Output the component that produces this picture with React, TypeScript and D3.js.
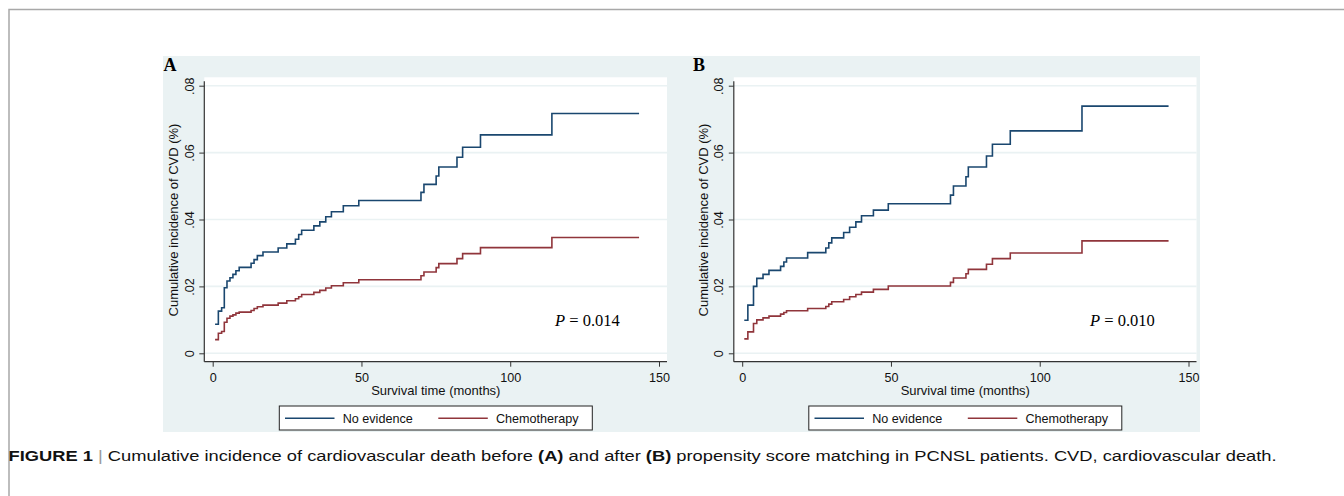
import * as d3 from 'd3'
import { useRef, useEffect } from 'react'

// event times (months) and cumulative incidence
const timesA = [0.8, 1.9, 3.0, 3.9, 4.8, 5.8, 6.8, 7.8, 8.9, 12.9, 13.9, 15.0, 16.9, 22.0, 24.9, 27.8, 28.9, 29.9, 34.0, 36.0, 38.0, 39.9, 43.9, 49.1, 70.0, 71.0, 75.1, 76.0, 82.1, 84.0, 90.0, 114.0, 143.3]
const noEvidenceA = [0.0087, 0.0126, 0.0136, 0.0196, 0.0216, 0.0226, 0.0236, 0.0247, 0.0257, 0.0269, 0.0280, 0.0292, 0.0303, 0.0315, 0.0327, 0.0341, 0.0355, 0.0368, 0.0381, 0.0393, 0.0408, 0.0423, 0.0441, 0.0457, 0.0481, 0.0505, 0.0530, 0.0557, 0.0586, 0.0616, 0.0653, 0.0717, 0.0717]
const chemoA = [0.0041, 0.0060, 0.0065, 0.0093, 0.0105, 0.0111, 0.0115, 0.0120, 0.0123, 0.0128, 0.0134, 0.0139, 0.0144, 0.0150, 0.0157, 0.0163, 0.0169, 0.0176, 0.0182, 0.0188, 0.0195, 0.0202, 0.0211, 0.0220, 0.0232, 0.0243, 0.0256, 0.0268, 0.0283, 0.0298, 0.0316, 0.0346, 0.0346]

const timesB = [0.7, 1.9, 3.8, 4.9, 7.0, 9.0, 12.9, 14.0, 14.9, 22.0, 28.1, 29.1, 30.1, 34.1, 36.1, 38.2, 40.1, 44.1, 49.1, 70.0, 71.0, 75.2, 76.0, 82.1, 84.1, 90.1, 114.2, 143.3]
const noEvidenceB = [0.0099, 0.0144, 0.0200, 0.0224, 0.0236, 0.0248, 0.0260, 0.0273, 0.0285, 0.0301, 0.0315, 0.0330, 0.0345, 0.0361, 0.0377, 0.0393, 0.0411, 0.0428, 0.0447, 0.0473, 0.0500, 0.0528, 0.0557, 0.0590, 0.0625, 0.0665, 0.0739, 0.0739]
const chemoB = [0.0043, 0.0064, 0.0089, 0.0100, 0.0106, 0.0111, 0.0117, 0.0122, 0.0127, 0.0134, 0.0140, 0.0147, 0.0154, 0.0161, 0.0169, 0.0176, 0.0183, 0.0191, 0.0201, 0.0212, 0.0225, 0.0238, 0.0251, 0.0266, 0.0283, 0.0300, 0.0336, 0.0336]

const xTicks = [0, 50, 100, 150]
const yTicks = [0, 0.02, 0.04, 0.06, 0.08]
const yTickLabels = ['0', '.02', '.04', '.06', '.08']
const seriesNames = ['No evidence', 'Chemotherapy']
const panelLabels = ['A', 'B']
const pValues = ['0.014', '0.010']

const NAVY = '#1a476f'
const MAROON = '#90353b'
const BG = '#eaf2f3'
const AXIS = '#333'
const SANS = '"Liberation Sans", Arial, sans-serif'
const SERIF = '"Liberation Serif", "Times New Roman", serif'

export default function App(){
    const svgRef = useRef<SVGSVGElement>(null)

    useEffect(()=>{
        const svg = d3.select(svgRef.current)
        svg.selectAll('*').remove()

        // page frame
        svg.append('path')
            .attr('d', 'M9,496 V9.5 H1344')
            .attr('fill', 'none')
            .attr('stroke', '#a8a8a8')
            .attr('stroke-width', 1.5)

        // graph background shared by both panels
        svg.append('rect')
            .attr('x', 163).attr('y', 56)
            .attr('width', 1037).attr('height', 376)
            .attr('fill', BG)

        const panels = [
            {times: timesA, blue: noEvidenceA, red: chemoA, dx: 0, px: 555},
            {times: timesB, blue: noEvidenceB, red: chemoB, dx: 529.5, px: 1090},
        ]

        panels.forEach((p, i)=>{
            const g = svg.append('g').attr('transform', `translate(${p.dx},0)`)
            const plot = {left: 204.3, right: 667, top: 77.3, bottom: 361.7}

            const x = d3.scaleLinear().domain([0, 150]).range([212.7, 659])
            const y = d3.scaleLinear().domain([0, 0.08]).range([353.3, 85.7])

            g.append('rect')
                .attr('x', plot.left).attr('y', plot.top)
                .attr('width', plot.right - plot.left).attr('height', plot.bottom - plot.top)
                .attr('fill', 'white')

            // grid
            g.selectAll('.grid')
                .data(yTicks)
                .enter()
                .append('line')
                .attr('x1', plot.left).attr('x2', plot.right)
                .attr('y1', d=>y(d)).attr('y2', d=>y(d))
                .attr('stroke', BG)
                .attr('stroke-width', 1.6)

            // axes
            const yAxis = g.append('g')
                .attr('transform', `translate(${plot.left},0)`)
                .call(d3.axisLeft(y).tickValues(yTicks).tickSize(5).tickSizeOuter(0)
                    .tickFormat((d, k)=>yTickLabels[k]))
            yAxis.select('.domain').remove()
            yAxis.selectAll('line').attr('stroke', AXIS)
            yAxis.selectAll('text')
                .attr('x', 0).attr('dy', 0)
                .attr('text-anchor', 'middle')
                .attr('transform', 'rotate(-90) translate(0,-10.5)')
                .attr('fill', '#111')
                .style('font-family', SANS).style('font-size', '12.6px')

            const xAxis = g.append('g')
                .attr('transform', `translate(0,${plot.bottom})`)
                .call(d3.axisBottom(x).tickValues(xTicks).tickSize(5).tickPadding(6).tickSizeOuter(0))
            xAxis.select('.domain').remove()
            xAxis.selectAll('line').attr('stroke', AXIS)
            xAxis.selectAll('text')
                .attr('fill', '#111')
                .style('font-family', SANS).style('font-size', '12.6px')

            g.append('line')
                .attr('x1', plot.left).attr('x2', plot.left)
                .attr('y1', plot.top + 4).attr('y2', plot.bottom)
                .attr('stroke', AXIS).attr('stroke-width', 1.2)
            g.append('line')
                .attr('x1', plot.left).attr('x2', plot.right)
                .attr('y1', plot.bottom).attr('y2', plot.bottom)
                .attr('stroke', AXIS).attr('stroke-width', 1.2)

            // step curves
            const line = d3.line<number>()
                .x((d, k)=>x(p.times[k]))
                .y(d=>y(d))
                .curve(d3.curveStepAfter)
            g.append('path').attr('d', line(p.red))
                .attr('fill', 'none').attr('stroke', MAROON).attr('stroke-width', 1.6)
            g.append('path').attr('d', line(p.blue))
                .attr('fill', 'none').attr('stroke', NAVY).attr('stroke-width', 1.6)

            // titles
            g.append('text')
                .attr('transform', 'translate(178,220) rotate(-90)')
                .attr('text-anchor', 'middle')
                .style('font-family', SANS).style('font-size', '13px')
                .attr('fill', '#111')
                .text('Cumulative incidence of CVD (%)')
            g.append('text')
                .attr('x', 435.8).attr('y', 395)
                .attr('text-anchor', 'middle')
                .style('font-family', SANS).style('font-size', '13px')
                .attr('fill', '#111')
                .text('Survival time (months)')

            g.append('text')
                .attr('x', 163.5).attr('y', 71)
                .style('font-family', SERIF).style('font-size', '18px').style('font-weight', 'bold')
                .attr('fill', '#000')
                .text(panelLabels[i])

            // P value
            const pt = svg.append('text')
                .attr('x', p.px).attr('y', 326)
                .style('font-family', SERIF).style('font-size', '16.5px')
                .attr('fill', '#000')
            pt.append('tspan').style('font-style', 'italic').text('P')
            pt.append('tspan').text(` = ${pValues[i]}`)

            // legend
            const lg = g.append('g')
            lg.append('rect')
                .attr('x', 279.3).attr('y', 406)
                .attr('width', 313).attr('height', 24)
                .attr('fill', 'white').attr('stroke', '#222').attr('stroke-width', 1)
            const items = [{c: NAVY, lx: 285, tx: 342.7}, {c: MAROON, lx: 438.3, tx: 496}]
            items.forEach((it, k)=>{
                lg.append('line')
                    .attr('x1', it.lx).attr('x2', it.lx + 49.5)
                    .attr('y1', 418.3).attr('y2', 418.3)
                    .attr('stroke', it.c).attr('stroke-width', 1.6)
                lg.append('text')
                    .attr('x', it.tx).attr('y', 422.8)
                    .style('font-family', SANS).style('font-size', '12.6px')
                    .attr('fill', '#111')
                    .text(seriesNames[k])
            })
        })

        // caption
        const cap = svg.append('text')
            .attr('x', 8.6).attr('y', 461)
            .attr('textLength', 1268).attr('lengthAdjust', 'spacingAndGlyphs')
            .style('font-family', SANS).style('font-size', '15.5px')
            .attr('fill', '#111')
        cap.append('tspan').style('font-weight', 'bold').text('FIGURE 1')
        cap.append('tspan').attr('fill', '#999').text(' | ')
        cap.append('tspan').text('Cumulative incidence of cardiovascular death before ')
        cap.append('tspan').style('font-weight', 'bold').text('(A)')
        cap.append('tspan').text(' and after ')
        cap.append('tspan').style('font-weight', 'bold').text('(B)')
        cap.append('tspan').text(' propensity score matching in PCNSL patients. CVD, cardiovascular death.')
    },[])

    return (
        <svg ref={svgRef} width={1344} height={496}
            style={{position: 'absolute', left: 0, top: 0, background: 'white'}}></svg>
    )
}
